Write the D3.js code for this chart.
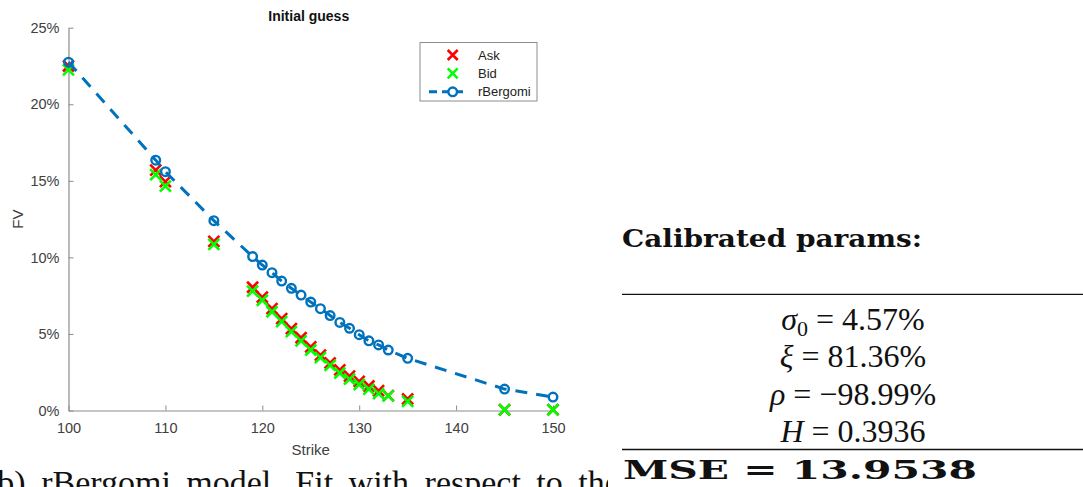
<!DOCTYPE html>
<html>
<head>
<meta charset="utf-8">
<script src="https://cdn.jsdelivr.net/npm/d3@7"></script>
<style>
  body { margin: 0; background: #fff; }
  svg { display: block; }
</style>
</head>
<body>
<svg id="chart" width="1083" height="487"></svg>
<script>
// market quotes and model prices (FV in %)
var strikes = [100, 109, 110, 115, 119, 120, 121, 122, 123, 124, 125, 126, 127, 128, 129, 130, 131, 132, 133, 135, 145, 150];
var ask = [22.5, 15.7, 14.95, 11.05, 8.05, 7.4, 6.65, 6.0, 5.35, 4.75, 4.15, 3.62, 3.1, 2.65, 2.25, 1.9, 1.6, 1.3, 0.97, 0.75, 0.05, 0.05];
var bid = [22.25, 15.4, 14.65, 10.85, 7.8, 7.2, 6.45, 5.8, 5.15, 4.55, 3.95, 3.45, 2.95, 2.45, 2.05, 1.7, 1.4, 1.1, 0.95, 0.6, 0.05, 0.05];
var model = [22.75, 16.35, 15.6, 12.4, 10.05, 9.5, 9.0, 8.45, 7.98, 7.54, 7.08, 6.65, 6.2, 5.75, 5.37, 4.95, 4.55, 4.28, 3.95, 3.41, 1.4, 0.88];
var xTicks = [100, 110, 120, 130, 140, 150];
var yTicks = [0, 5, 10, 15, 20, 25];
var params = [
	{sym: "σ", sub: "0", val: "4.57%"},
	{sym: "ξ", sub: "", val: "81.36%"},
	{sym: "ρ", sub: "", val: "−98.99%"},
	{sym: "H", sub: "", val: "0.3936"}
];
var mse = "13.9538";

var svg = d3.select("#chart");
var pLeft = 68.5, pRight = 553, pTop = 27.7, pBottom = 410.5;

var x = d3.scaleLinear().domain([100, 150]).range([pLeft, pRight]);
var y = d3.scaleLinear().domain([0, 25]).range([pBottom, pTop]);

var axisColor = "#8c8c8c";
var labelColor = "#404040";
var font = "Liberation Sans, Arial, sans-serif";

// axes (MATLAB style, box off, ticks inside)
var xAxis = svg.append("g").attr("transform", "translate(0," + pBottom + ")")
	.call(d3.axisBottom(x).tickValues(xTicks).tickSizeInner(-5).tickSizeOuter(0).tickPadding(12));
var yAxis = svg.append("g").attr("transform", "translate(" + pLeft + ",0)")
	.call(d3.axisLeft(y).tickValues(yTicks).tickSizeInner(-5).tickSizeOuter(0).tickPadding(9)
		.tickFormat(d => d + "%"));
[xAxis, yAxis].forEach(g => {
	g.select(".domain").attr("stroke", axisColor).attr("stroke-width", 1.2);
	g.selectAll(".tick line").attr("stroke", axisColor);
	g.selectAll(".tick text").attr("fill", labelColor).style("font-family", font).style("font-size", "14.5px");
});

svg.append("text").attr("x", (pLeft + pRight) / 2).attr("y", 455)
	.attr("text-anchor", "middle").style("font-family", font).style("font-size", "15px")
	.attr("fill", labelColor).text("Strike");
svg.append("text").attr("transform", "translate(23," + ((pTop + pBottom) / 2) + ") rotate(-90)")
	.attr("text-anchor", "middle").style("font-family", font).style("font-size", "15px")
	.attr("fill", labelColor).text("FV");
svg.append("text").attr("x", (pLeft + pRight) / 2 - 2).attr("y", 21)
	.attr("text-anchor", "middle").style("font-family", font).style("font-size", "14px")
	.style("font-weight", "bold").attr("fill", "#111").text("Initial guess");

// cross marker
function cross(g, cx, cy, s, color) {
	g.append("path")
		.attr("d", "M" + (cx - s) + "," + (cy - s) + "L" + (cx + s) + "," + (cy + s) +
			"M" + (cx - s) + "," + (cy + s) + "L" + (cx + s) + "," + (cy - s))
		.attr("stroke", color).attr("stroke-width", 2.6).attr("fill", "none");
}

var plot = svg.append("g");
var askG = plot.append("g");
strikes.forEach((k, i) => cross(askG, x(k), y(ask[i]), 5.5, "#ff0000"));
var bidG = plot.append("g");
strikes.forEach((k, i) => cross(bidG, x(k), y(bid[i]), 5.5, "#00ff00"));

var blue = "#0072bd";
var line = d3.line().x((d, i) => x(strikes[i])).y(d => y(d));
plot.append("path").datum(model).attr("d", line)
	.attr("fill", "none").attr("stroke", blue).attr("stroke-width", 3)
	.attr("stroke-dasharray", "12,9");
plot.selectAll("circle.m").data(model).enter().append("circle")
	.attr("cx", (d, i) => x(strikes[i])).attr("cy", d => y(d)).attr("r", 4.3)
	.attr("fill", "none").attr("stroke", blue).attr("stroke-width", 2.4);

// legend
var lg = svg.append("g");
lg.append("rect").attr("x", 420).attr("y", 42.5).attr("width", 117).attr("height", 58.5)
	.attr("fill", "#fff").attr("stroke", "#8c8c8c").attr("stroke-width", 1);
var legendItems = [
	{name: "Ask", color: "#ff0000", type: "x"},
	{name: "Bid", color: "#00ff00", type: "x"},
	{name: "rBergomi", color: blue, type: "o"}
];
legendItems.forEach((d, i) => {
	var ly = 55 + i * 18.4;
	if (d.type == "x") {
		cross(lg, 452.7, ly, 5, d.color);
	} else {
		lg.append("line").attr("x1", 429).attr("x2", 464).attr("y1", ly).attr("y2", ly)
			.attr("stroke", d.color).attr("stroke-width", 3).attr("stroke-dasharray", "8,5");
		lg.append("circle").attr("cx", 452.7).attr("cy", ly).attr("r", 4.3)
			.attr("fill", "#fff").attr("stroke", d.color).attr("stroke-width", 2.4);
	}
	lg.append("text").attr("x", 478).attr("y", ly + 4.5).style("font-family", font)
		.style("font-size", "13px").attr("fill", "#222").text(d.name);
});

// right-hand table
var serif = "Liberation Serif, Times New Roman, serif";
svg.append("text").attr("x", 622).attr("y", 247)
	.style("font-family", "DejaVu Serif, serif").style("font-weight", "bold").style("font-size", "25px")
	.attr("textLength", 300).attr("lengthAdjust", "spacingAndGlyphs")
	.attr("fill", "#111").text("Calibrated params:");
svg.append("line").attr("x1", 622).attr("x2", 1083).attr("y1", 294.3).attr("y2", 294.3)
	.attr("stroke", "#111").attr("stroke-width", 1.3);
svg.append("line").attr("x1", 622).attr("x2", 1083).attr("y1", 449.5).attr("y2", 449.5)
	.attr("stroke", "#111").attr("stroke-width", 1.3);

params.forEach((p, i) => {
	var t = svg.append("text").attr("x", 853).attr("y", 330 + i * 37.3)
		.attr("text-anchor", "middle").style("font-family", serif).style("font-size", "32px")
		.attr("fill", "#111");
	t.append("tspan").style("font-style", "italic").text(p.sym);
	if (p.sub) t.append("tspan").attr("dy", 6).style("font-size", "22px").text(p.sub);
	t.append("tspan").attr("dy", p.sub ? -6 : 0).text(" = " + p.val);
});
svg.append("text").attr("x", 800).attr("y", 478.5)
	.attr("text-anchor", "middle").style("font-family", "DejaVu Serif, serif").style("font-weight", "bold")
	.style("font-size", "26px").attr("textLength", 354).attr("lengthAdjust", "spacingAndGlyphs")
	.attr("fill", "#111").text("MSE = " + mse);

// caption cut at the bottom edge (and at the table on the right)
svg.append("clipPath").attr("id", "capClip")
	.append("rect").attr("x", 0).attr("y", 455).attr("width", 608).attr("height", 40);
svg.append("text").attr("x", -14).attr("y", 494).attr("clip-path", "url(#capClip)")
	.style("font-family", serif).style("font-size", "34px").attr("fill", "#111")
	.attr("word-spacing", "7px")
	.text("(b)  rBergomi model. Fit with respect to the");
</script>
</body>
</html>
